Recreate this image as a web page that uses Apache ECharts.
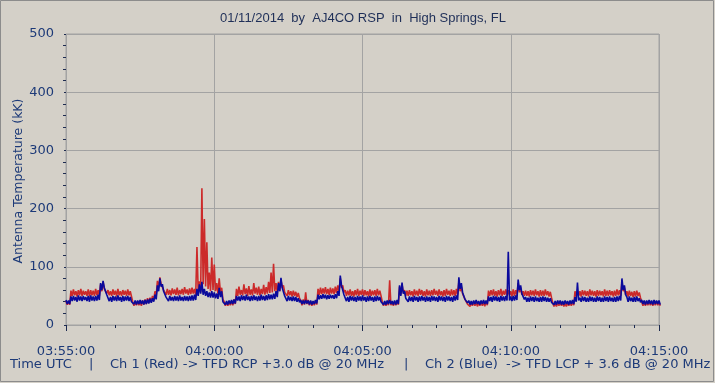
<!DOCTYPE html>
<html><head><meta charset="utf-8">
<script src="https://cdn.jsdelivr.net/npm/echarts@6/dist/echarts.min.js"></script>
<style>html,body{margin:0;padding:0;background:#d4d0c8;}#c{width:715px;height:383px;}</style>
</head><body><div id="c"></div>
<script>
// Tick labels for the time axis (seconds after 03:55:00, every 300 s)
const timeTickLabels = ["03:55:00", "04:00:00", "04:05:00", "04:10:00", "04:15:00"];
const binSeconds = 5; // each value below is the max / min of one 5-second bin

// Ch 1 (Red), kK: upper and lower edge of the noisy trace, per 5-s bin from 03:55:00
const ch1RedHigh = [
  41,40,
  59,61,58,60,62,59,58,61,60,59,62,60,
  70,74,64,
  60,58,61,59,62,58,60,59,61,58,
  40,39,41,40,42,44,46,47,
  50,58,76,82,72,62,
  62,60,63,61,64,60,62,65,61,63,64,62,
  134,75,235,182,142,90,116,104,72,80,64,
  40,39,40,41,44,
  62,66,60,70,63,67,61,72,64,66,62,69,65,74,
  90,105,72,74,78,68,
  59,60,58,59,57,55,
  42,44,56,43,41,40,42,
  62,64,63,65,62,64,63,66,68,
  80,68,
  60,59,61,58,60,62,59,61,60,58,61,59,60,62,59,
  40,39,40,77,39,40,41,
  66,70,60,
  59,60,58,61,59,62,60,58,61,59,60,62,59,61,58,60,62,59,61,60,62,
  74,66,54,44,
  39,38,40,39,38,40,39,41,
  59,60,61,58,60,62,59,61,60,58,61,60,
  72,64,58,
  59,58,60,59,61,58,60,59,61,58,57,
  38,37,38,39,38,37,38,39,40,
  58,59,58,60,59,58,61,59,58,60,59,58,61,59,60,58,59,61,60,
  74,64,
  58,59,57,58,59,56,
  40,39,40,41,39,40,41,39
];
const ch1RedLow = [
  35,35,
  50,51,49,51,50,52,50,49,51,50,51,50,
  58,62,54,
  51,50,52,49,51,50,52,50,51,49,
  33,34,34,33,35,36,38,40,
  42,50,64,70,60,52,
  52,51,53,52,51,53,52,54,52,53,54,52,
  58,56,70,66,62,58,60,58,54,56,44,
  33,33,34,34,36,
  50,52,51,53,50,52,51,54,52,51,53,52,54,55,
  56,58,56,58,64,56,
  50,51,49,50,48,46,
  34,35,36,34,33,34,35,
  52,53,54,53,52,54,53,55,57,
  64,56,
  50,51,50,49,51,50,52,50,51,49,50,51,50,51,50,
  33,33,34,34,33,34,35,
  52,56,50,
  50,51,49,51,50,52,50,49,51,50,51,52,50,51,49,50,52,50,51,50,52,
  58,54,44,36,
  32,33,33,32,33,33,32,34,
  50,51,50,49,51,50,52,50,51,49,50,51,
  56,52,50,
  50,49,51,50,51,49,50,50,51,49,47,
  32,32,33,33,32,32,33,33,34,
  49,50,49,51,50,49,51,50,49,50,51,49,50,50,51,49,50,51,50,
  58,52,
  49,50,48,49,50,47,
  33,33,34,34,33,34,34,33
];

// Ch 2 (Blue), kK: upper and lower edge of the noisy trace, same bins
const ch2BlueHigh = [
  43,42,
  49,50,48,51,49,50,48,50,51,49,50,52,
  72,76,62,
  49,48,50,49,51,48,50,49,50,48,
  43,42,42,43,42,43,44,45,
  46,52,68,80,70,57,
  49,50,48,50,49,51,48,50,49,50,51,52,
  62,70,74,62,58,56,58,56,54,64,58,
  42,41,42,43,44,
  50,49,51,50,52,49,50,51,49,50,52,50,51,53,
  52,54,58,72,81,64,
  49,50,48,49,48,46,
  43,42,43,42,42,41,43,
  52,51,53,52,51,52,51,53,58,
  85,66,
  49,48,50,49,48,50,49,51,48,49,50,48,49,50,48,
  42,41,42,43,41,42,43,
  68,73,58,
  48,49,48,50,48,49,50,48,49,48,50,49,48,50,49,48,50,49,48,50,51,
  82,72,54,45,
  42,41,42,43,41,42,43,42,
  49,48,50,49,48,50,49,50,126,49,50,51,
  78,68,54,
  48,47,49,48,49,47,48,49,48,47,46,
  42,41,42,42,41,42,41,42,43,
  48,73,47,49,48,47,49,48,47,49,48,47,49,48,49,47,48,49,50,
  80,68,
  48,49,47,48,49,46,
  43,42,42,43,42,43,42,42
];
const ch2BlueLow = [
  36,36,
  41,42,40,42,41,43,41,40,42,41,42,43,
  60,64,52,
  41,40,42,41,42,40,41,42,41,40,
  36,35,36,36,35,36,37,38,
  40,44,58,66,58,48,
  41,42,41,42,41,42,41,42,41,42,42,43,
  50,54,52,50,48,47,47,46,45,48,40,
  35,35,36,36,37,
  42,41,43,42,43,41,42,43,41,42,43,42,43,44,
  44,45,48,58,64,50,
  41,42,41,41,40,39,
  36,36,37,35,35,36,37,
  44,45,46,44,45,46,45,46,50,
  68,52,
  41,40,42,41,40,42,41,42,40,41,42,40,41,42,40,
  35,35,36,36,35,35,36,
  50,54,46,
  40,41,40,42,40,41,42,40,41,40,42,41,40,42,41,40,42,41,40,42,43,
  62,56,44,38,
  35,35,36,36,35,36,36,36,
  41,40,42,41,40,42,41,42,42,41,42,43,
  60,54,44,
  40,40,41,40,41,40,40,41,40,40,39,
  35,35,36,35,35,36,35,36,36,
  40,42,40,41,40,40,41,40,40,41,40,40,41,40,41,40,40,41,42,
  60,52,
  40,41,40,40,41,39,
  36,35,36,36,35,36,36,35
];

const titleText = "01/11/2014  by  AJ4CO RSP  in  High Springs, FL";
const yAxisTitle = "Antenna Temperature (kK)";
const footerParts = ["Time UTC", "|", "Ch 1 (Red) -> TFD RCP +3.0 dB @ 20 MHz", "|", "Ch 2 (Blue)  -> TFD LCP + 3.6 dB @ 20 MHz"];

// Each bin is drawn as its maximum at the bin start and its minimum half a bin later
function binTrace(high, low) {
  const pts = [];
  for (let i = 0; i < high.length; i++) {
    pts.push([i * binSeconds, high[i]]);
    pts.push([i * binSeconds + binSeconds / 2, low[i]]);
  }
  return pts;
}
const redTrace = binTrace(ch1RedHigh, ch1RedLow);
const blueTrace = binTrace(ch2BlueHigh, ch2BlueLow);

const labelColor = '#1d3a78';
const tickColor = '#1d2a50';
const gridColor = '#a3a3a3';
const footerX = [10, 89, 110, 404, 425];
const chart = echarts.init(document.getElementById('c'), null, {renderer: 'canvas'});
chart.setOption({
  backgroundColor: '#d4d0c8',
  animation: false,
  grid: {left: 66, right: 56, top: 34, bottom: 58, show: true, borderColor: gridColor, borderWidth: 1, backgroundColor: 'transparent'},
  xAxis: {
    type: 'value', min: 0, max: 1200, interval: 300, offset: 5,
    axisLine: {show: true, lineStyle: {color: 'rgba(0,0,0,0)'}},
    axisTick: {show: true, length: 6, lineStyle: {color: tickColor}},
    minorTick: {show: true, splitNumber: 6, length: 3, lineStyle: {color: tickColor}},
    splitLine: {show: true, lineStyle: {color: gridColor, width: 1}},
    axisLabel: {
      formatter: v => timeTickLabels[Math.round(v / 300)],
      color: labelColor, fontFamily: 'DejaVu Sans', fontSize: 13, margin: 15
    }
  },
  yAxis: {
    type: 'value', min: 0, max: 500, interval: 100, offset: 6,
    axisLine: {show: true, lineStyle: {color: 'rgba(0,0,0,0)'}},
    axisTick: {show: true, length: 2, lineStyle: {color: tickColor}},
    minorTick: {show: true, splitNumber: 5, length: 3, lineStyle: {color: tickColor}},
    splitLine: {show: true, lineStyle: {color: gridColor, width: 1}},
    axisLabel: {color: labelColor, fontFamily: 'DejaVu Sans', fontSize: 13, margin: 6}
  },
  series: [
    {type: 'line', data: redTrace, showSymbol: false, lineStyle: {color: '#cc2a2a', width: 1.6}, itemStyle: {color: '#cc2a2a'}, z: 2},
    {type: 'line', data: blueTrace, showSymbol: false, lineStyle: {color: '#0a0a9c', width: 1.6}, itemStyle: {color: '#0a0a9c'}, z: 3}
  ],
  graphic: [
    {type: 'rect', shape: {x: 0.5, y: 0.5, width: 713, height: 381}, style: {fill: 'none', stroke: '#8c8c8c', lineWidth: 1}, silent: true},
    {type: 'text', x: 363, y: 18, style: {text: titleText, fill: '#1f2f58', font: '13px "Liberation Sans"', textAlign: 'center', textVerticalAlign: 'middle'}},
    {type: 'text', x: 19, y: 181, rotation: Math.PI / 2, style: {text: yAxisTitle, fill: labelColor, font: '12.5px "DejaVu Sans"', textAlign: 'center', textVerticalAlign: 'middle'}}
  ].concat(footerParts.map((t, i) => ({
    type: 'text', x: footerX[i], y: 365,
    style: {text: t, fill: labelColor, font: '13px "DejaVu Sans"', textAlign: 'left', textVerticalAlign: 'middle'}
  })))
});
</script></body></html>
